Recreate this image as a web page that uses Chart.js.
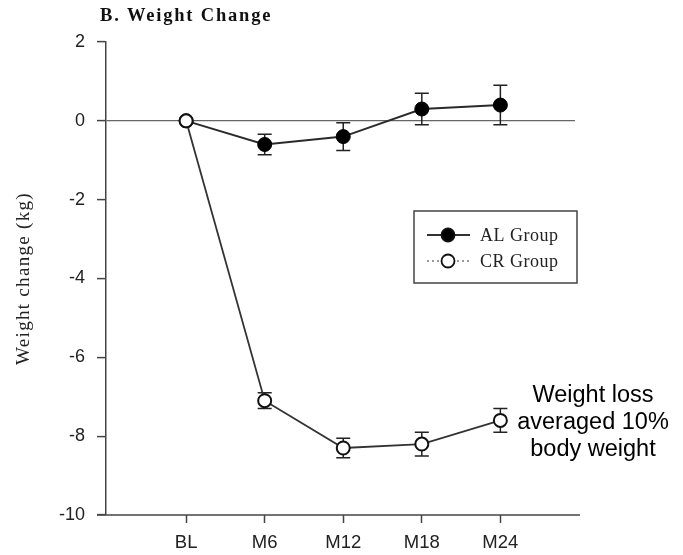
<!DOCTYPE html>
<html>
<head>
<meta charset="utf-8">
<script src="https://cdn.jsdelivr.net/npm/chart.js@4/dist/chart.umd.min.js"></script>
<style>
  body { margin: 0; background: #fff; }
</style>
</head>
<body>
<canvas id="weightChart" width="683" height="555"></canvas>
<script>
const categories = ["BL", "M6", "M12", "M18", "M24"];
const alMean = [0, -0.6, -0.4, 0.3, 0.4];
const alErr = [0, 0.26, 0.35, 0.4, 0.5];
const crMean = [0, -7.1, -8.3, -8.2, -7.6];
const crErr = [0, 0.2, 0.25, 0.3, 0.3];
const yTicks = [2, 0, -2, -4, -6, -8, -10];
const noteLines = ["Weight loss", "averaged 10%", "body weight"];

const serif = "'Liberation Serif', 'DejaVu Serif', serif";
const sans = "'Liberation Sans', Arial, sans-serif";

const errorBars = {
  id: "errorBars",
  beforeDatasetsDraw(chart) {
    const ctx = chart.ctx;
    const y = chart.scales.y;
    ctx.save();
    ctx.strokeStyle = "#222";
    ctx.lineWidth = 1.5;
    chart.data.datasets.forEach((ds, i) => {
      const meta = chart.getDatasetMeta(i);
      meta.data.forEach((pt, j) => {
        const e = ds.errs[j];
        if (!e) return;
        const top = y.getPixelForValue(ds.data[j].y + e);
        const bot = y.getPixelForValue(ds.data[j].y - e);
        ctx.beginPath();
        ctx.moveTo(pt.x, top); ctx.lineTo(pt.x, bot);
        ctx.moveTo(pt.x - 7, top); ctx.lineTo(pt.x + 7, top);
        ctx.moveTo(pt.x - 7, bot); ctx.lineTo(pt.x + 7, bot);
        ctx.stroke();
      });
    });
    ctx.restore();
  }
};

const decorations = {
  id: "decorations",
  afterDraw(chart) {
    const ctx = chart.ctx;
    const area = chart.chartArea;
    ctx.save();

    // title
    ctx.fillStyle = "#111";
    ctx.font = "bold 18.5px " + serif;
    ctx.letterSpacing = "1.8px";
    ctx.textAlign = "left";
    ctx.textBaseline = "alphabetic";
    ctx.fillText("B. Weight Change", area.left - 6, 21);

    // y axis title
    ctx.save();
    ctx.translate(24, (area.top + area.bottom) / 2);
    ctx.rotate(-Math.PI / 2);
    ctx.font = "19px " + serif;
    ctx.letterSpacing = "1.3px";
    ctx.fillStyle = "#222";
    ctx.textAlign = "center";
    ctx.textBaseline = "middle";
    ctx.fillText("Weight change (kg)", 0, 0);
    ctx.restore();
    ctx.letterSpacing = "0px";

    // bottom axis extension
    ctx.strokeStyle = "#444";
    ctx.lineWidth = 1.5;
    ctx.beginPath();
    ctx.moveTo(area.left - 9, area.bottom);
    ctx.lineTo(area.right + 5, area.bottom);
    ctx.stroke();

    // legend box
    const lx = 414, ly = 211, lw = 163, lh = 72;
    ctx.lineWidth = 1.5;
    ctx.strokeStyle = "#444";
    ctx.strokeRect(lx, ly, lw, lh);
    const rows = [
      { label: "AL Group", y: 235, fill: "#000", dash: [] },
      { label: "CR Group", y: 261, fill: "#fff", dash: [2, 3] }
    ];
    rows.forEach(r => {
      ctx.strokeStyle = "#333";
      ctx.lineWidth = r.dash.length ? 1.2 : 2;
      ctx.setLineDash(r.dash);
      ctx.beginPath();
      ctx.moveTo(427, r.y); ctx.lineTo(470, r.y);
      ctx.stroke();
      ctx.setLineDash([]);
      ctx.beginPath();
      ctx.arc(448, r.y, 6.5, 0, Math.PI * 2);
      ctx.fillStyle = r.fill;
      ctx.fill();
      ctx.lineWidth = 1.8;
      ctx.strokeStyle = "#111";
      ctx.stroke();
      ctx.fillStyle = "#222";
      ctx.font = "18px " + serif;
      ctx.letterSpacing = "0.5px";
      ctx.textAlign = "left";
      ctx.textBaseline = "middle";
      ctx.fillText(r.label, 480, r.y + 1);
      ctx.letterSpacing = "0px";
    });

    // note
    ctx.fillStyle = "#000";
    ctx.font = "23.5px " + sans;
    ctx.textAlign = "center";
    ctx.textBaseline = "middle";
    noteLines.forEach((t, i) => ctx.fillText(t, 593, 396 + i * 27));

    ctx.restore();
  }
};

new Chart(document.getElementById("weightChart"), {
  type: "line",
  data: {
    datasets: [
      {
        label: "CR Group",
        data: categories.map((c, i) => ({ x: i, y: crMean[i] })),
        errs: crErr,
        borderColor: "#333",
        borderWidth: 1.8,
        pointRadius: 6.5,
        pointBackgroundColor: "#fff",
        pointBorderColor: "#111",
        pointBorderWidth: 2,
        tension: 0
      },
      {
        label: "AL Group",
        data: categories.map((c, i) => ({ x: i, y: alMean[i] })),
        errs: alErr,
        borderColor: "#2a2a2a",
        borderWidth: 2,
        pointRadius: 7,
        pointBackgroundColor: "#000",
        pointBorderColor: "#000",
        pointBorderWidth: 1,
        tension: 0
      }
    ]
  },
  options: {
    responsive: false,
    animation: false,
    layout: { padding: { top: 42, right: 108, left: 0, bottom: 0 } },
    plugins: {
      legend: { display: false },
      tooltip: { enabled: false }
    },
    scales: {
      x: {
        type: "linear",
        min: -1.02,
        max: 4.95,
        afterBuildTicks: scale => { scale.ticks = categories.map((c, i) => ({ value: i })); },
        afterFit: scale => { scale.height = 40; },
        ticks: {
          callback: v => categories[v],
          color: "#222",
          font: { family: sans, size: 18.5 },
          padding: 9,
          maxRotation: 0
        },
        grid: { drawOnChartArea: false, tickLength: 8, tickColor: "#444", tickWidth: 1.5 },
        border: { display: false }
      },
      y: {
        min: -10,
        max: 2,
        afterBuildTicks: scale => { scale.ticks = yTicks.map(v => ({ value: v })); },
        afterFit: scale => { scale.width = 106; },
        ticks: {
          color: "#222",
          font: { family: sans, size: 18 },
          padding: 12
        },
        grid: {
          color: c => (c.tick && c.tick.value === 0 ? "#666" : "rgba(0,0,0,0)"),
          lineWidth: 1.2,
          tickLength: 9,
          tickColor: "#444",
          tickWidth: 1.5
        },
        border: { display: true, color: "#444", width: 1.5 }
      }
    }
  },
  plugins: [errorBars, decorations]
});
</script>
</body>
</html>
